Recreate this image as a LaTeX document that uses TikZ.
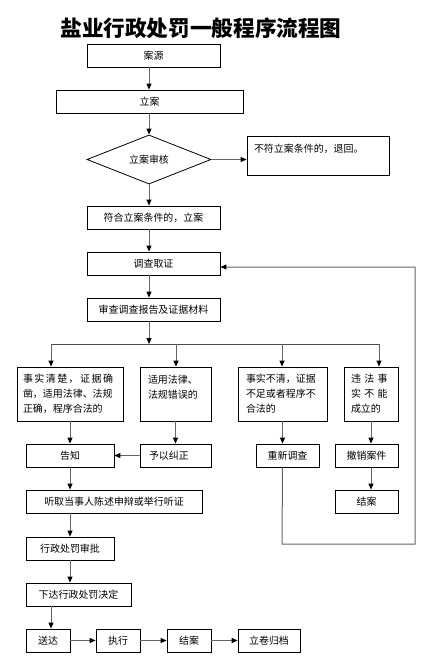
\documentclass[tikz,border=0pt]{standalone}
\usepackage{fontspec}
\setmainfont{Noto Sans CJK SC}
\usetikzlibrary{arrows.meta,shapes.geometric}
\begin{document}
\begin{tikzpicture}[x=1bp,y=-1bp,
  box/.style={draw=black,line width=0.8bp,inner sep=0pt,minimum height=23bp,font=\fontsize{10}{15}\selectfont},
  tbox/.style={draw=black,line width=0.8bp,minimum height=54bp,inner ysep=0pt,align=left,font=\fontsize{10}{15}\selectfont},
  arr/.style={draw=black!60,line width=1bp,-{Triangle[length=6bp,width=5bp,color=black]}},
  ln/.style={draw=black!70,line width=0.8bp}]
\useasboundingbox (0,0) rectangle (428,665);
\node[font=\fontsize{21.7}{22}\selectfont\bfseries] (title) at (201,28) {盐业行政处罚一般程序流程图};
% main column
\node[box,minimum width=133bp] (anyuan) at (153.5,55.5) {案源};
\node[box,minimum width=187bp] (lian) at (149.5,101.5) {立案};
\node[diamond,draw=black,line width=0.8bp,inner sep=0pt,minimum width=124bp,minimum height=45bp,font=\fontsize{10}{15}\selectfont] (sh) at (149,159.5) {立案审核};
\node[box,minimum width=142bp,minimum height=39bp,text width=128bp,inner xsep=7bp,align=left] (buhe) at (318,155.5) {不符立案条件的，退回。\\\mbox{}};
\node[box,minimum width=133bp] (fuhe) at (153.5,217.5) {符合立案条件的，立案};
\node[box,minimum width=133bp] (diaocha) at (153.5,263.5) {调查取证};
\node[box,minimum width=133bp] (shencha) at (153.5,309.5) {审查调查报告及证据材料};
% four cases
\node[tbox,text width=94bp,inner xsep=6bp] (b1) at (70,394) {\makebox[90bp][s]{事\hfill 实\hfill 清\hfill 楚\hfill ，\hfill 证\hfill 据\hfill 确}\\凿，适用法律、法规\\正确，程序合法的};
\node[tbox,text width=55bp,inner xsep=8bp] (b2) at (175.5,394) {适用法律、\\法规错误的\\\mbox{}};
\node[tbox,text width=73bp,inner xsep=8bp] (b3) at (282.5,394) {事实不清，证据\\不足或者程序不\\合法的};
\node[tbox,text width=40bp,inner xsep=7bp] (b4) at (371,394) {违~法~事\\实~不~能\\成立的};
% results
\node[box,minimum width=88bp] (gaozhi) at (70,455.5) {告知};
\node[box,minimum width=71bp,text width=53bp,inner xsep=9bp,align=left] (jiuzheng) at (175.5,455.5) {予以纠正};
\node[box,minimum width=63bp] (chongxin) at (287.5,455.5) {重新调查};
\node[box,minimum width=63bp] (chexiao) at (366.5,455.5) {撤销案件};
\node[box,minimum width=63bp] (jiean1) at (366.5,501.5) {结案};
\node[box,minimum width=176bp] (tingqu) at (114,501.5) {听取当事人陈述申辩或举行听证};
\node[box,minimum width=88bp] (shenpi) at (70,548.5) {行政处罚审批};
\node[box,minimum width=105bp] (xiada) at (78.5,594.5) {下达行政处罚决定};
\node[box,minimum width=44bp] (songda) at (48,640.5) {送达};
\node[box,minimum width=44bp] (zhixing) at (118,640.5) {执行};
\node[box,minimum width=44bp] (jiean2) at (189,640.5) {结案};
\node[box,minimum width=62bp] (guidang) at (269,640.5) {立卷归档};
% coordinates
\coordinate (mx) at (149,0);
\coordinate (sx) at (51,0);
\coordinate (fork) at (149,344);
\coordinate (br1) at (51,344);
\coordinate (br2) at (176,344);
\coordinate (br3) at (282,344);
\coordinate (br4) at (379,344);
\coordinate (fb1) at (282,544);
\coordinate (fb2) at (415,544);
\coordinate (fb3) at (415,267);
% connectors
\draw[arr] (anyuan.south -| mx) -- (lian.north -| mx);
\draw[arr] (lian.south -| mx) -- (sh.north);
\draw[arr] (sh.east) -- (buhe.west |- sh.east);
\draw[arr] (sh.south) -- (fuhe.north -| mx);
\draw[arr] (fuhe.south -| mx) -- (diaocha.north -| mx);
\draw[arr] (diaocha.south -| mx) -- (shencha.north -| mx);
\draw[arr] (shencha.south -| mx) -- (fork);
\draw[ln] (br1) -- (br4);
\draw[arr] (br1) -- (b1.north -| br1);
\draw[arr] (br2) -- (b2.north -| br2);
\draw[arr] (br3) -- (b3.north -| br3);
\draw[arr] (br4) -- (b4.north -| br4);
\draw[arr] (b1.south) -- (gaozhi.north);
\draw[arr] (b2.south) -- (jiuzheng.north);
\draw[arr] (b3.south) -- (chongxin.north -| b3.south);
\draw[arr] (b4.south) -- (chexiao.north -| b4.south);
\draw[arr] (chexiao.south -| b4.south) -- (jiean1.north -| b4.south);
\draw[arr] (jiuzheng.west) -- (gaozhi.east);
\draw[arr] (chongxin.south -| b3.south) -- (fb1) -- (fb2) -- (fb3) -- (diaocha.east |- fb3);
\draw[arr] (gaozhi.south) -- (tingqu.north -| gaozhi.south);
\draw[arr] (tingqu.south -| gaozhi.south) -- (shenpi.north);
\draw[arr] (shenpi.south) -- (xiada.north -| shenpi.south);
\draw[arr] (xiada.south -| sx) -- (songda.north -| sx);
\draw[arr] (songda.east) -- (zhixing.west);
\draw[arr] (zhixing.east) -- (jiean2.west);
\draw[arr] (jiean2.east) -- (guidang.west);
\end{tikzpicture}
\end{document}
